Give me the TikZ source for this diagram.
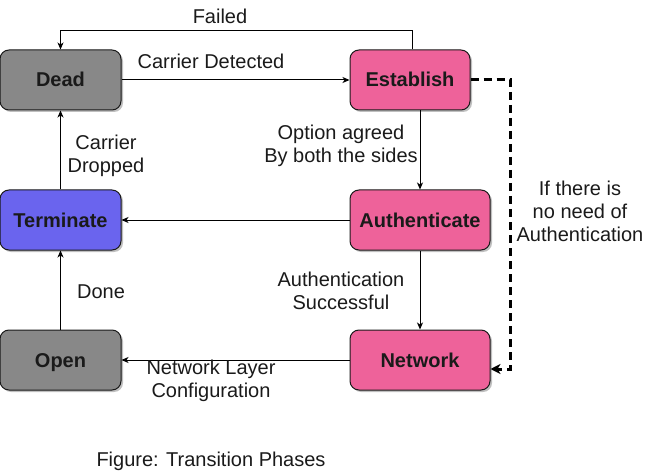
\documentclass[tikz,border=0pt]{standalone}
\usepackage{fontspec}
\setmainfont{Liberation Sans}
\usetikzlibrary{arrows.meta,shadows}
\definecolor{deadgray}{RGB}{136,136,136}
\definecolor{phasepink}{RGB}{238,98,154}
\definecolor{termblue}{RGB}{106,100,238}
\definecolor{inkdark}{RGB}{26,26,26}
\begin{document}
\begin{tikzpicture}[x=1pt, y=-1pt, line width=1pt,
  phase/.style = {draw=inkdark, rounded corners=9pt, minimum height=60pt, text=inkdark,
    text height=16pt, text depth=2pt,
    font=\fontsize{20}{23}\selectfont\bfseries,
    drop shadow={shadow xshift=2pt, shadow yshift=-2pt, fill=black, opacity=0.25}},
  lbl/.style = {font=\fontsize{20}{23}\selectfont, align=center, text=inkdark},
  arr/.style = {-{Stealth[length=7pt,width=6pt,inset=2pt]}}]
\useasboundingbox (0,0) rectangle (651,476);
\node[phase, fill=deadgray, minimum width=121pt] (dead) at (60.5,80) {Dead};
\node[phase, fill=phasepink, minimum width=120pt] (est) at (410,80) {Establish};
\node[phase, fill=termblue, minimum width=121pt] (term) at (60.5,220) {Terminate};
\node[phase, fill=phasepink, minimum width=140pt] (auth) at (420,220) {Authenticate};
\node[phase, fill=deadgray, minimum width=121pt] (open) at (60.5,360) {Open};
\node[phase, fill=phasepink, minimum width=140pt] (net) at (420,360) {Network};
% transitions
\draw[arr] ([xshift=2pt]est.north) -- ++(0,-19) -| (dead.north);
\draw[arr] (dead.east) -- (est.west);
\draw[arr] ([xshift=10pt]est.south) -- (auth.north);
\draw[arr] (auth.west) -- (term.east);
\draw[arr] (auth.south) -- (net.north);
\draw[arr] (net.west) -- (open.east);
\draw[arr] (open.north) -- (term.south);
\draw[arr] (term.north) -- (dead.south);
\draw[line width=3pt, dash pattern=on 8pt off 5pt, -{Stealth[length=10pt,width=10pt,inset=3pt]}]
  (est.east) -- ++(40,0) |- ([yshift=-9pt]net.east);
% labels
\node[lbl] (failed) at (220,16) {Failed};
\node[lbl] (detected) at (211,61) {Carrier Detected};
\node[lbl] (agreed) at (341,146) {Option agreed\\By both the sides};
\node[lbl] (dropped) at (106,156) {Carrier\\Dropped};
\node[lbl] (noauth) at (580,211) {If there is\\no need of\\Authentication};
\node[lbl] (done) at (101,292) {Done};
\node[lbl] (success) at (341,291) {Authentication\\Successful};
\node[lbl] (config) at (211,381) {Network Layer\\Configuration};
\node[lbl] (caption) at (211,461) {Figure: Transition Phases};
\end{tikzpicture}
\end{document}
